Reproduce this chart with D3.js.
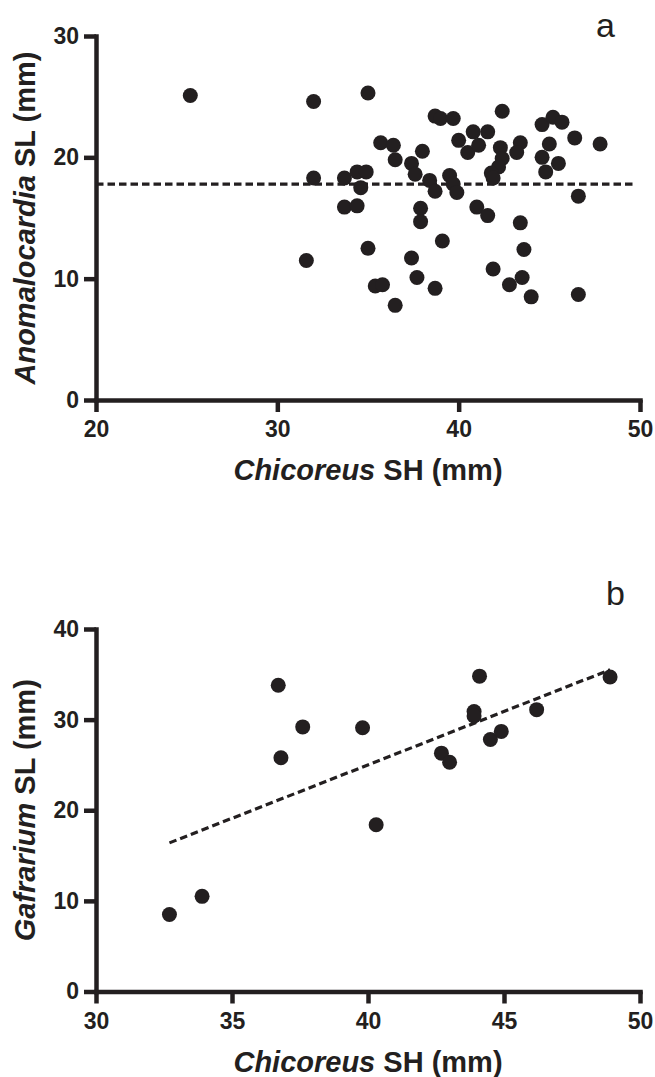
<!DOCTYPE html>
<html>
<head>
<meta charset="utf-8">
<script src="https://cdn.jsdelivr.net/npm/d3@7"></script>
<style>
  body { margin: 0; background: #fff; }
  text { font-family: "Liberation Sans", Arial, Helvetica, sans-serif; fill: #231f20; }
</style>
</head>
<body>
<div id="chart"></div>
<script>
// panel a: Chicoreus SH vs Anomalocardia SL
const chicoreusA = [25.2, 32.0, 35.0, 32.0, 31.6, 33.7, 34.4, 34.9, 34.6, 33.7, 34.4, 35.7, 36.4, 36.5, 37.4, 37.6, 38.0,
    38.4, 38.7, 37.9, 37.9, 38.7, 39.0, 39.7, 39.5, 39.7, 39.9, 40.0, 40.8, 40.5, 41.1, 41.6, 42.3, 42.4, 42.2, 41.8,
    41.9, 42.4, 43.4, 43.2, 44.6, 45.2, 45.7, 45.0, 44.6, 45.5, 44.8, 46.4, 47.8, 46.6, 41.0, 41.6, 43.4, 43.6, 39.1,
    35.0, 37.4, 35.4, 35.8, 37.7, 38.7, 36.5, 41.9, 43.5, 42.8, 44.0, 46.6]
const anomalocardiaA = [25.1, 24.6, 25.3, 18.3, 11.5, 18.3, 18.8, 18.8, 17.5, 15.9, 16.0, 21.2, 21.0, 19.8, 19.5, 18.6, 20.5,
    18.1, 17.2, 15.8, 14.7, 23.4, 23.2, 23.2, 18.5, 17.8, 17.1, 21.4, 22.1, 20.4, 21.0, 22.1, 20.8, 19.9, 19.2, 18.7,
    18.3, 23.8, 21.2, 20.4, 22.7, 23.3, 22.9, 21.1, 20.0, 19.5, 18.8, 21.6, 21.1, 16.8, 15.9, 15.2, 14.6, 12.4, 13.1,
    12.5, 11.7, 9.4, 9.5, 10.1, 9.2, 7.8, 10.8, 10.1, 9.5, 8.5, 8.7]
const fitA = [[20, 17.8], [49.8, 17.8]]
const xTicksA = [20, 30, 40, 50]
const yTicksA = [0, 10, 20, 30]

// panel b: Chicoreus SH vs Gafrarium SL
const chicoreusB = [36.7, 37.6, 36.8, 39.8, 40.3, 42.7, 43.0, 43.9, 43.9, 44.1, 44.5, 44.9, 46.2, 48.9, 32.7, 33.9]
const gafrariumB = [33.8, 29.2, 25.8, 29.1, 18.4, 26.3, 25.3, 30.9, 30.4, 34.8, 27.8, 28.7, 31.1, 34.7, 8.5, 10.5]
const fitB = [[32.7, 16.4], [48.9, 35.5]]
const xTicksB = [30, 35, 40, 45, 50]
const yTicksB = [0, 10, 20, 30, 40]

const width = 655
const height = 1077
const ink = "#231f20"

const svg = d3.select("div#chart").append("svg")
    .attr("width", width)
    .attr("height", height)

function panel(cfg) {
    const x = d3.scaleLinear().domain(d3.extent(cfg.xTicks)).range([96, 640])
    const y = d3.scaleLinear().domain(d3.extent(cfg.yTicks)).range([cfg.bottom, cfg.top])
    const g = svg.append("g")

    const xAxis = d3.axisBottom(x).tickValues(cfg.xTicks).tickSize(12).tickSizeOuter(0).tickPadding(9)
    const yAxis = d3.axisLeft(y).tickValues(cfg.yTicks).tickSize(12).tickSizeOuter(0).tickPadding(5)

    const xg = g.append("g").attr("transform", `translate(0, ${cfg.bottom})`).call(xAxis)
    const yg = g.append("g").attr("transform", `translate(96, 0)`).call(yAxis)
    for (const ag of [xg, yg]) {
        ag.select(".domain").attr("stroke", ink).attr("stroke-width", 4.5).attr("stroke-linecap", "square")
        ag.selectAll(".tick line").attr("stroke", ink).attr("stroke-width", 4.5)
        ag.selectAll(".tick text")
            .attr("font-family", "Liberation Sans, Arial, sans-serif")
            .attr("font-size", 23).attr("font-weight", "bold").attr("fill", ink)
    }

    const line = d3.line().x(d => x(d[0])).y(d => y(d[1]))
    g.append("path")
        .datum(cfg.fit)
        .attr("d", line)
        .attr("fill", "none")
        .attr("stroke", ink)
        .attr("stroke-width", 3.2)
        .attr("stroke-dasharray", "7.5,4")

    g.selectAll(".dot")
        .data(cfg.xs.map((v, i) => [v, cfg.ys[i]]))
        .enter().append("circle")
        .attr("class", "dot")
        .attr("cx", d => x(d[0]))
        .attr("cy", d => y(d[1]))
        .attr("r", 7.5)
        .attr("fill", ink)

    const xt = g.append("text")
        .attr("x", 368).attr("y", cfg.bottom + 80)
        .attr("text-anchor", "middle")
        .attr("font-size", 29).attr("font-weight", "bold")
    xt.append("tspan").attr("font-style", "italic").text("Chicoreus")
    xt.append("tspan").text(" SH (mm)")

    const yt = g.append("text")
        .attr("transform", `translate(35, ${(cfg.top + cfg.bottom) / 2}) rotate(-90)`)
        .attr("text-anchor", "middle")
        .attr("font-size", 29).attr("font-weight", "bold")
    yt.append("tspan").attr("font-style", "italic").text(cfg.genus)
    yt.append("tspan").text(" SL (mm)")

    g.append("text")
        .attr("x", cfg.labelX).attr("y", cfg.labelY)
        .attr("font-size", 34)
        .text(cfg.label)
}

panel({ xs: chicoreusA, ys: anomalocardiaA, fit: fitA, xTicks: xTicksA, yTicks: yTicksA,
    top: 36, bottom: 400, genus: "Anomalocardia", label: "a", labelX: 596, labelY: 37 })
panel({ xs: chicoreusB, ys: gafrariumB, fit: fitB, xTicks: xTicksB, yTicks: yTicksB,
    top: 629, bottom: 991.5, genus: "Gafrarium", label: "b", labelX: 606, labelY: 605 })
</script>
</body>
</html>
